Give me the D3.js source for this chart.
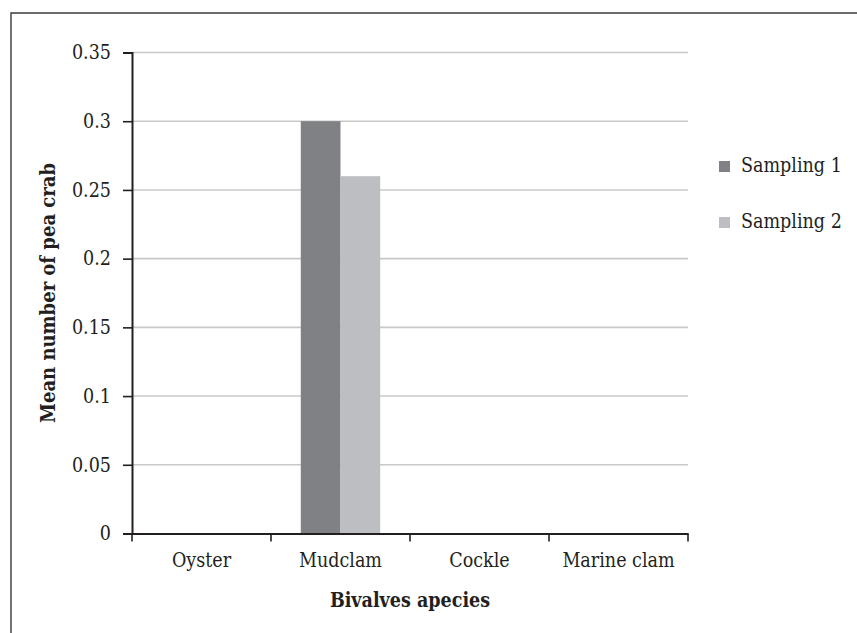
<!DOCTYPE html>
<html>
<head>
<meta charset="utf-8">
<script src="https://cdn.jsdelivr.net/npm/d3@7"></script>
<style>
  body { margin: 0; background: #fff; }
  text { font-family: "DejaVu Serif Condensed", "DejaVu Serif", serif; font-stretch: condensed; fill: #231f20; }
</style>
</head>
<body>
<svg id="chart" width="857" height="633"></svg>
<script>
const species = ["Oyster", "Mudclam", "Cockle", "Marine clam"];
const seriesNames = ["Sampling 1", "Sampling 2"];
const sampling1 = [0, 0.3, 0, 0];
const sampling2 = [0, 0.26, 0, 0];
const yTicks = [0, 0.05, 0.1, 0.15, 0.2, 0.25, 0.3, 0.35];
const colors = ["#808185", "#bdbec1"];

const fontSize = 19.5;
const margin = {top: 52.5, left: 132, right: 169, bottom: 99.5};
const width = 857, height = 633;
const innerW = width - margin.left - margin.right;
const innerH = height - margin.top - margin.bottom;

const svg = d3.select("#chart");

// outer frame (only top and left edges are visible)
svg.append("path")
    .attr("d", `M11,633 L11,13 L857,13`)
    .attr("fill", "none")
    .attr("stroke", "#3a3a3a")
    .attr("stroke-width", 1.4);

const g = svg.append("g")
    .attr("transform", `translate(${margin.left},${margin.top})`);

const x = d3.scaleBand()
    .domain(species)
    .range([0, innerW]);

const x1 = d3.scaleBand()
    .domain(seriesNames)
    .range([0, x.bandwidth()])
    .paddingOuter(0.75);

const y = d3.scaleLinear()
    .domain([0, 0.35])
    .range([innerH, 0]);

// gridlines
g.append("g")
    .selectAll("line")
    .data(yTicks.filter(d => d > 0))
    .join("line")
    .attr("x1", 0)
    .attr("x2", innerW)
    .attr("y1", d => y(d))
    .attr("y2", d => y(d))
    .attr("stroke", "#c8c8c8")
    .attr("stroke-width", 1.6);

// bars
const rows = species.map((s, i) => ({species: s, values: [sampling1[i], sampling2[i]]}));
g.append("g")
    .selectAll("g")
    .data(rows)
    .join("g")
    .attr("transform", d => `translate(${x(d.species)},0)`)
    .selectAll("rect")
    .data(d => d.values.map((v, k) => ({key: seriesNames[k], value: v, k})))
    .join("rect")
    .attr("x", d => x1(d.key))
    .attr("width", x1.bandwidth())
    .attr("y", d => y(d.value))
    .attr("height", d => innerH - y(d.value))
    .attr("fill", d => colors[d.k]);

// y axis
const yAxis = g.append("g")
    .call(d3.axisLeft(y).tickValues(yTicks).tickSize(9).tickPadding(12)
        .tickFormat(d => d3.format("")(+d.toFixed(2))));
yAxis.attr("font-family", null).attr("font-size", null);
yAxis.select(".domain").attr("stroke", "#231f20").attr("stroke-width", 2);
yAxis.selectAll(".tick line").attr("stroke", "#231f20").attr("stroke-width", 1.6);
yAxis.selectAll(".tick text")
    .attr("font-size", fontSize)
    .attr("fill", "#231f20");

// x axis
const xAxis = g.append("g")
    .attr("transform", `translate(0,${innerH})`)
    .call(d3.axisBottom(x).tickSize(0).tickPadding(20));
xAxis.attr("font-family", null).attr("font-size", null);
xAxis.select(".domain").attr("stroke", "#231f20").attr("stroke-width", 2);
xAxis.selectAll(".tick text")
    .attr("font-size", fontSize)
    .attr("fill", "#231f20");

// x tick marks sit on the band boundaries
g.append("g")
    .selectAll("line")
    .data(species.map(s => x(s)).concat([innerW]))
    .join("line")
    .attr("x1", d => d)
    .attr("x2", d => d)
    .attr("y1", innerH)
    .attr("y2", innerH + 8)
    .attr("stroke", "#231f20")
    .attr("stroke-width", 1.6);

// axis titles
g.append("text")
    .attr("x", innerW / 2)
    .attr("y", innerH + 73)
    .attr("text-anchor", "middle")
    .attr("font-weight", "bold")
    .attr("font-size", fontSize)
    .text("Bivalves apecies");

g.append("text")
    .attr("transform", "rotate(-90)")
    .attr("x", -innerH / 2)
    .attr("y", -77)
    .attr("text-anchor", "middle")
    .attr("font-weight", "bold")
    .attr("font-size", 20)
    .text("Mean number of pea crab");

// legend
const legend = svg.append("g")
    .attr("transform", "translate(719,0)")
    .selectAll("g")
    .data(seriesNames)
    .join("g")
    .attr("transform", (d, i) => `translate(0,${161 + i * 56})`);

legend.append("rect")
    .attr("width", 11)
    .attr("height", 11)
    .attr("fill", (d, i) => colors[i]);

legend.append("text")
    .attr("x", 22)
    .attr("y", 11)
    .attr("font-size", fontSize)
    .text(d => d);
</script>
</body>
</html>
